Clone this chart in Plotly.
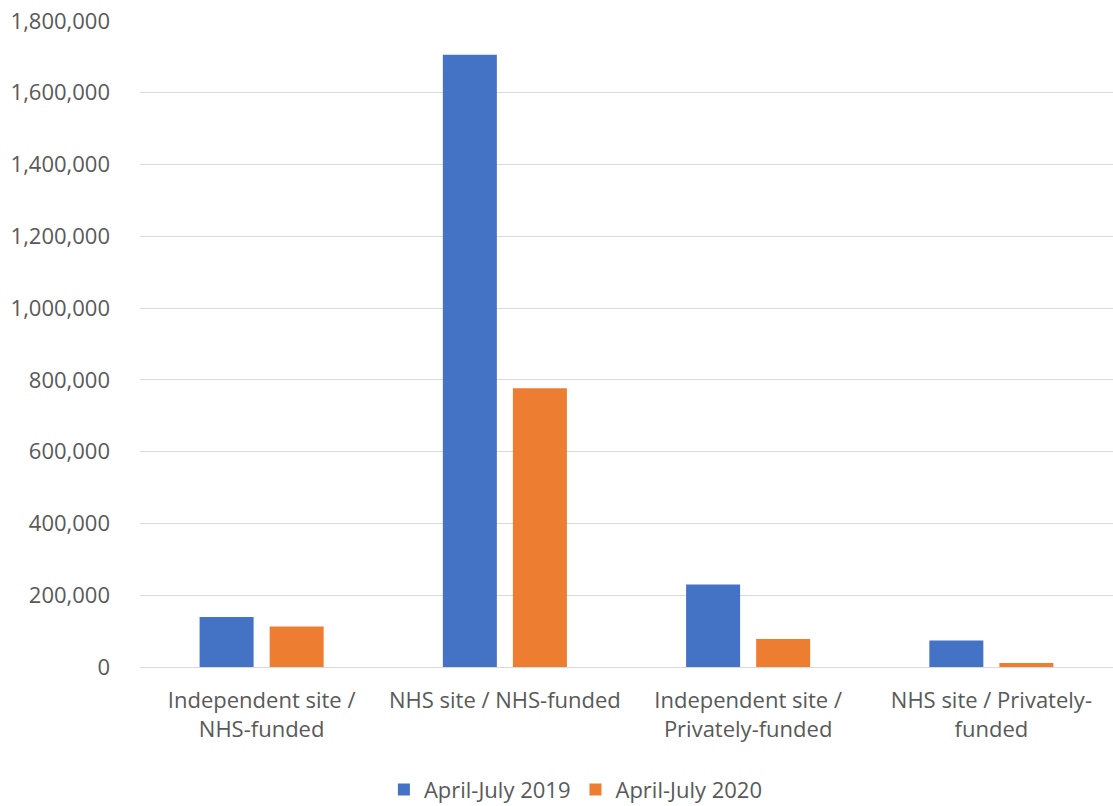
import plotly.graph_objects as go

categories = [
    "Independent site /<br>NHS-funded",
    "NHS site / NHS-funded",
    "Independent site /<br>Privately-funded",
    "NHS site / Privately-<br>funded",
]
series_names = ["April-July 2019", "April-July 2020"]
values_2019 = [139000, 1706000, 230000, 74000]
values_2020 = [113000, 777000, 78000, 11000]
colors = ["#4472C4", "#ED7D31"]
y_ticks = [0, 200000, 400000, 600000, 800000, 1000000, 1200000, 1400000, 1600000, 1800000]

font_family = "Open Sans, Lato, sans-serif"
text_color = "#595959"

fig = go.Figure()
for name, vals, col in zip(series_names, [values_2019, values_2020], colors):
    fig.add_trace(go.Bar(
        x=categories, y=vals, name=name,
        marker=dict(color=col, line=dict(width=0)),
    ))

fig.update_layout(
    width=1113, height=806,
    margin=dict(l=140, r=0, t=21, b=139, autoexpand=False),
    paper_bgcolor="white", plot_bgcolor="white",
    barmode="group", bargap=0.424, bargroupgap=0.229,
    font=dict(family=font_family, size=22, color=text_color),
    showlegend=True,
    legend=dict(
        orientation="h", x=0.448, xanchor="center", y=-0.19, yanchor="middle",
        font=dict(size=22, color=text_color), itemwidth=30, traceorder="normal",
    ),
)
fig.update_xaxes(
    showgrid=False, showline=False, zeroline=False, automargin=False,
    ticks="", tickfont=dict(size=22, color=text_color),
    ticklabelstandoff=18,
)
fig.update_yaxes(
    range=[0, 1800000], tickvals=y_ticks, tickformat=",d", automargin=False,
    showgrid=True, gridcolor="#D9D9D9", gridwidth=1.3,
    zeroline=True, zerolinecolor="#D9D9D9", zerolinewidth=1.3,
    showline=False, ticks="", tickfont=dict(size=22, color=text_color),
    ticklabelstandoff=29,
)

fig.write_html("out.html")
